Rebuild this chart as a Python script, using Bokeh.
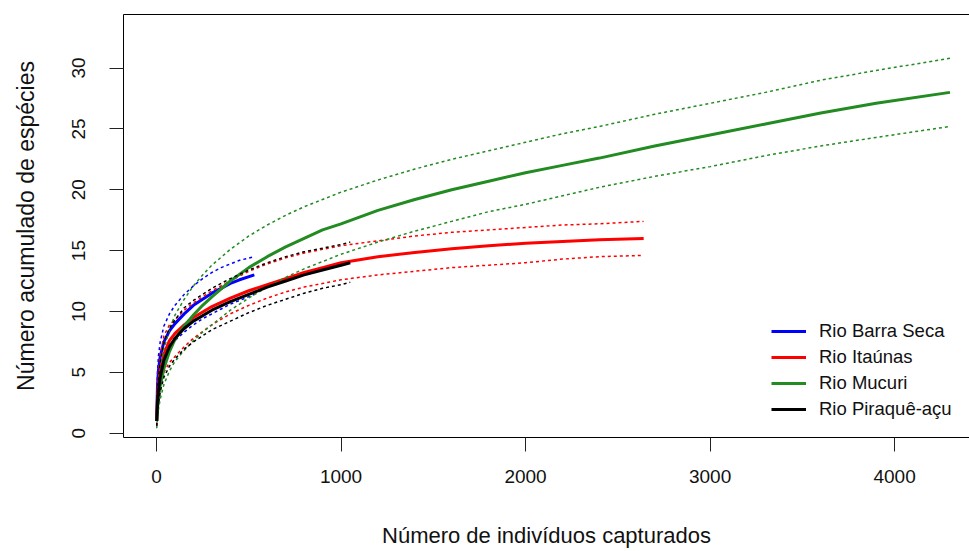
import math
from bokeh.plotting import figure
from bokeh.models import Range1d, LinearAxis, FixedTicker, Legend, LegendItem
from bokeh.embed import file_html
from bokeh.resources import INLINE

# ---------------- data ----------------
# Rio Barra Seca (blue)
bs_n = [1, 5, 10, 20, 40, 70, 100, 150, 200, 250, 300, 350, 400, 450, 530]
bs_mean = [1.0, 3.8, 5.1, 6.3, 7.5, 8.4, 9.0, 9.8, 10.5, 11.0, 11.5, 11.9, 12.3, 12.6, 13.0]
bs_upper = [1.4, 4.8, 6.3, 7.5, 8.8, 9.8, 10.5, 11.4, 12.1, 12.7, 13.2, 13.6, 13.9, 14.2, 14.5]
bs_lower = [0.6, 2.8, 3.9, 5.0, 6.2, 7.0, 7.6, 8.3, 8.9, 9.4, 9.8, 10.2, 10.6, 10.9, 11.4]

# Rio Itaúnas (red)
it_n = [1, 5, 10, 20, 40, 70, 100, 150, 200, 300, 400, 500, 600, 700, 800, 900, 1000,
        1200, 1400, 1600, 1800, 2000, 2200, 2400, 2640]
it_mean = [1.0, 2.9, 3.9, 5.1, 6.5, 7.6, 8.2, 8.9, 9.5, 10.4, 11.1, 11.7, 12.2, 12.7, 13.2, 13.6, 14.0,
           14.5, 14.85, 15.15, 15.4, 15.6, 15.75, 15.9, 16.0]
it_upper = [1.4, 3.8, 5.0, 6.4, 8.0, 8.9, 9.3, 10.1, 10.7, 11.7, 12.5, 13.3, 13.9, 14.4, 14.8, 15.1, 15.4,
            15.8, 16.2, 16.5, 16.7, 16.9, 17.1, 17.2, 17.4]
it_lower = [0.6, 2.0, 2.8, 3.8, 5.0, 5.8, 6.3, 7.1, 7.8, 8.9, 9.8, 10.5, 11.1, 11.6, 12.0, 12.3, 12.6,
            13.0, 13.3, 13.6, 13.8, 14.0, 14.3, 14.5, 14.6]

# Rio Mucuri (green)
mu_n = [1, 5, 10, 20, 40, 70, 100, 150, 200, 250, 300, 400, 500, 600, 700, 800, 900, 1000,
        1200, 1400, 1600, 1800, 2000, 2200, 2400, 2700, 3000, 3300, 3600, 3900, 4300]
mu_mean = [1.0, 2.0, 2.8, 3.9, 5.3, 6.7, 7.7, 8.8, 9.7, 10.5, 11.2, 12.5, 13.6, 14.5, 15.3, 16.0, 16.7, 17.2,
           18.3, 19.2, 20.0, 20.7, 21.4, 22.0, 22.6, 23.6, 24.5, 25.4, 26.3, 27.1, 28.0]
mu_upper = [1.4, 2.9, 3.9, 5.2, 6.9, 8.5, 9.7, 11.0, 12.1, 13.0, 13.8, 15.1, 16.2, 17.1, 17.9, 18.6, 19.2, 19.8,
            20.8, 21.7, 22.5, 23.2, 23.9, 24.6, 25.2, 26.2, 27.1, 28.0, 29.0, 29.8, 30.8]
mu_lower = [0.4, 1.3, 1.9, 2.8, 4.0, 5.1, 5.9, 6.8, 7.6, 8.3, 8.9, 10.1, 11.1, 12.0, 12.8, 13.5, 14.1, 14.7,
            15.7, 16.6, 17.4, 18.2, 18.8, 19.5, 20.2, 21.1, 21.9, 22.8, 23.6, 24.3, 25.2]

# Rio Piraquê-açu (black)
pi_n = [1, 5, 10, 20, 40, 70, 100, 150, 200, 300, 400, 500, 600, 700, 800, 900, 1000, 1050]
pi_mean = [1.0, 2.5, 3.4, 4.6, 6.0, 7.1, 7.8, 8.6, 9.2, 10.1, 10.8, 11.4, 12.0, 12.5, 13.0, 13.4, 13.8, 14.0]
pi_upper = [1.4, 3.4, 4.5, 5.9, 7.5, 8.6, 9.3, 10.3, 10.9, 11.9, 12.7, 13.4, 14.0, 14.5, 14.9, 15.2, 15.5, 15.7]
pi_lower = [0.6, 1.7, 2.4, 3.4, 4.6, 5.5, 6.1, 6.9, 7.5, 8.5, 9.2, 9.9, 10.5, 11.0, 11.5, 11.9, 12.2, 12.4]

series_names = ["Rio Barra Seca", "Rio Itaúnas", "Rio Mucuri", "Rio Piraquê-açu"]
series_colors = ["#0000FF", "#FF0000", "#228B22", "#000000"]

x_ticks = [0, 1000, 2000, 3000, 4000]
y_ticks = [0, 5, 10, 15, 20, 25, 30]

FONT = "Liberation Sans"
TXT = "#111111"

# ---------------- figure ----------------
p = figure(width=969, height=551, output_backend="svg", toolbar_location=None,
           x_range=Range1d(-179, 4406), y_range=Range1d(-0.36, 34.4),
           x_axis_location=None, y_axis_location=None,
           min_border_left=123, min_border_right=0, min_border_top=14, min_border_bottom=114)
p.grid.visible = False
p.outline_line_color = None
p.background_fill_color = "white"
p.border_fill_color = "white"

data = [
    (bs_n, bs_mean, bs_upper, bs_lower),
    (it_n, it_mean, it_upper, it_lower),
    (mu_n, mu_mean, mu_upper, mu_lower),
    (pi_n, pi_mean, pi_upper, pi_lower),
]

legend_items = []
for (n, m, u, l), name, col in zip(data, series_names, series_colors):
    p.line(n, u, line_color=col, line_width=1.5, line_dash="3 3")
    p.line(n, l, line_color=col, line_width=1.5, line_dash="3 3")
    r = p.line(n, m, line_color=col, line_width=3)
    legend_items.append(LegendItem(label=name, renderers=[r]))

# axes
xax = LinearAxis(ticker=FixedTicker(ticks=x_ticks), axis_label="Número de indivíduos capturados")
yax = LinearAxis(ticker=FixedTicker(ticks=y_ticks), axis_label="Número acumulado de espécies")
for ax in (xax, yax):
    ax.major_tick_out = 14
    ax.major_tick_in = 0
    ax.minor_tick_line_color = None
    ax.axis_line_color = "black"
    ax.major_tick_line_color = "#222222"
    ax.major_label_text_font = FONT
    ax.major_label_text_font_size = "19px"
    ax.major_label_text_color = TXT
    ax.axis_label_text_font = FONT
    ax.axis_label_text_font_style = "normal"
    ax.axis_label_text_color = TXT
xax.major_label_standoff = 18
xax.axis_label_standoff = 37
xax.axis_label_text_font_size = "22px"
yax.major_label_orientation = "parallel"
yax.major_label_standoff = 24
yax.axis_label_standoff = 31
yax.axis_label_text_font_size = "23px"

top = LinearAxis(ticker=FixedTicker(ticks=[]), major_label_text_font_size="0px",
                 major_tick_out=0, major_tick_in=0, minor_tick_line_color=None,
                 major_label_standoff=0, axis_line_color="black")

p.add_layout(xax, "below")
p.add_layout(yax, "left")
p.add_layout(top, "above")

legend = Legend(items=legend_items, location=(648, 17))
legend.background_fill_alpha = 0
legend.border_line_color = None
legend.padding = 0
legend.margin = 0
legend.spacing = 4
legend.glyph_width = 35
legend.glyph_height = 20
legend.label_height = 20
legend.label_standoff = 13
legend.label_text_font = FONT
legend.label_text_font_size = "18.5px"
legend.label_text_color = TXT
p.add_layout(legend, "center")

open("out.html", "w").write(file_html(p, INLINE))
